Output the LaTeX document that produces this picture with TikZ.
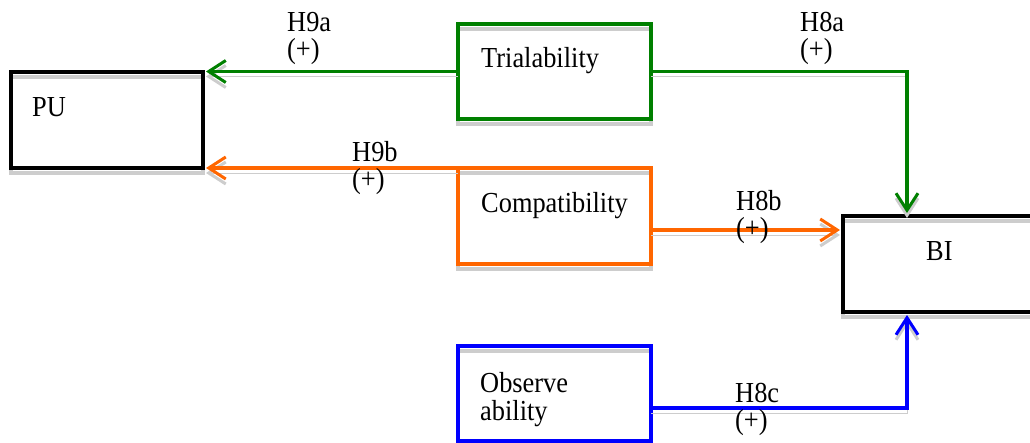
\documentclass[tikz,border=0pt]{standalone}
\usepackage{fontspec}
\setmainfont{Liberation Serif}[FakeStretch=0.91]
\usetikzlibrary{arrows.meta}
\definecolor{dgreen}{RGB}{0,128,0}
\definecolor{dorange}{RGB}{255,102,0}
\definecolor{dblue}{RGB}{0,0,255}
\definecolor{shadowgray}{RGB}{205,205,205}
\begin{document}
\begin{tikzpicture}[x=1pt,y=-1pt,
  shd/.style={preaction={draw=shadowgray, transform canvas={yshift=-5pt}}},
  box/.style={draw=#1, shd, rectangle, line width=3.1pt, inner sep=0pt, outer sep=0pt},
  conn/.style={draw=#1, shd, line width=3.1pt,
    -{Straight Barb[length=17pt, width=22pt, line width=3pt]}},
  lbl/.style={anchor=base west, inner sep=0pt, font=\fontsize{29}{27}\selectfont}]
\useasboundingbox (0,0) rectangle (1030,443);

% construct boxes
\node[box=black, minimum width=192pt, minimum height=96pt] (pu) at (107,120) {};
\node[box=dgreen, minimum width=193pt, minimum height=95pt] (tri) at (554.5,71.5) {};
\node[box=dorange, minimum width=193pt, minimum height=96pt] (comp) at (554.5,216) {};
\node[box=black, minimum width=200pt, minimum height=96pt] (bi) at (943,264) {};
\node[box=dblue, minimum width=193pt, minimum height=95pt] (obs) at (554.5,393.5) {};

% construct names
\node[lbl] (tpu) at (32,117) {PU};
\node[lbl] (ttri) at (481,68) {Trialability};
\node[lbl] (tcomp) at (481,213) {Compatibility};
\node[lbl] (tbi) at (926,261) {BI};
\node[lbl] (tobs1) at (480,392) {Observe};
\node[lbl] (tobs2) at (480,420) {ability};

% hypothesised paths
\draw[conn=dgreen, shorten >=3pt] (tri.west) -- (tri.west -| pu.east);
\draw[conn=dgreen, shorten >=3pt] (tri.east) -| ([xshift=64pt]bi.north west);
\draw[conn=dorange, shorten >=3pt] (comp.north west) -- (comp.north west -| pu.east);
\draw[conn=dorange, shorten >=3pt] ([yshift=-14pt]comp.east) coordinate (o2) -- (o2 -| bi.west);
\draw[conn=dblue, shorten >=3pt] ([yshift=-14.5pt]obs.east) -| ([xshift=64pt]bi.south west);

% hypothesis labels
\node[lbl] (h9a) at (287,32) {H9a};
\node[lbl] (h9as) at (287,59) {(+)};
\node[lbl] (h8a) at (800,32) {H8a};
\node[lbl] (h8as) at (800,59) {(+)};
\node[lbl] (h9b) at (352,162) {H9b};
\node[lbl] (h9bs) at (352,189) {(+)};
\node[lbl] (h8b) at (736,211) {H8b};
\node[lbl] (h8bs) at (736,238) {(+)};
\node[lbl] (h8c) at (735,402) {H8c};
\node[lbl] (h8cs) at (735,429) {(+)};
\end{tikzpicture}
\end{document}
